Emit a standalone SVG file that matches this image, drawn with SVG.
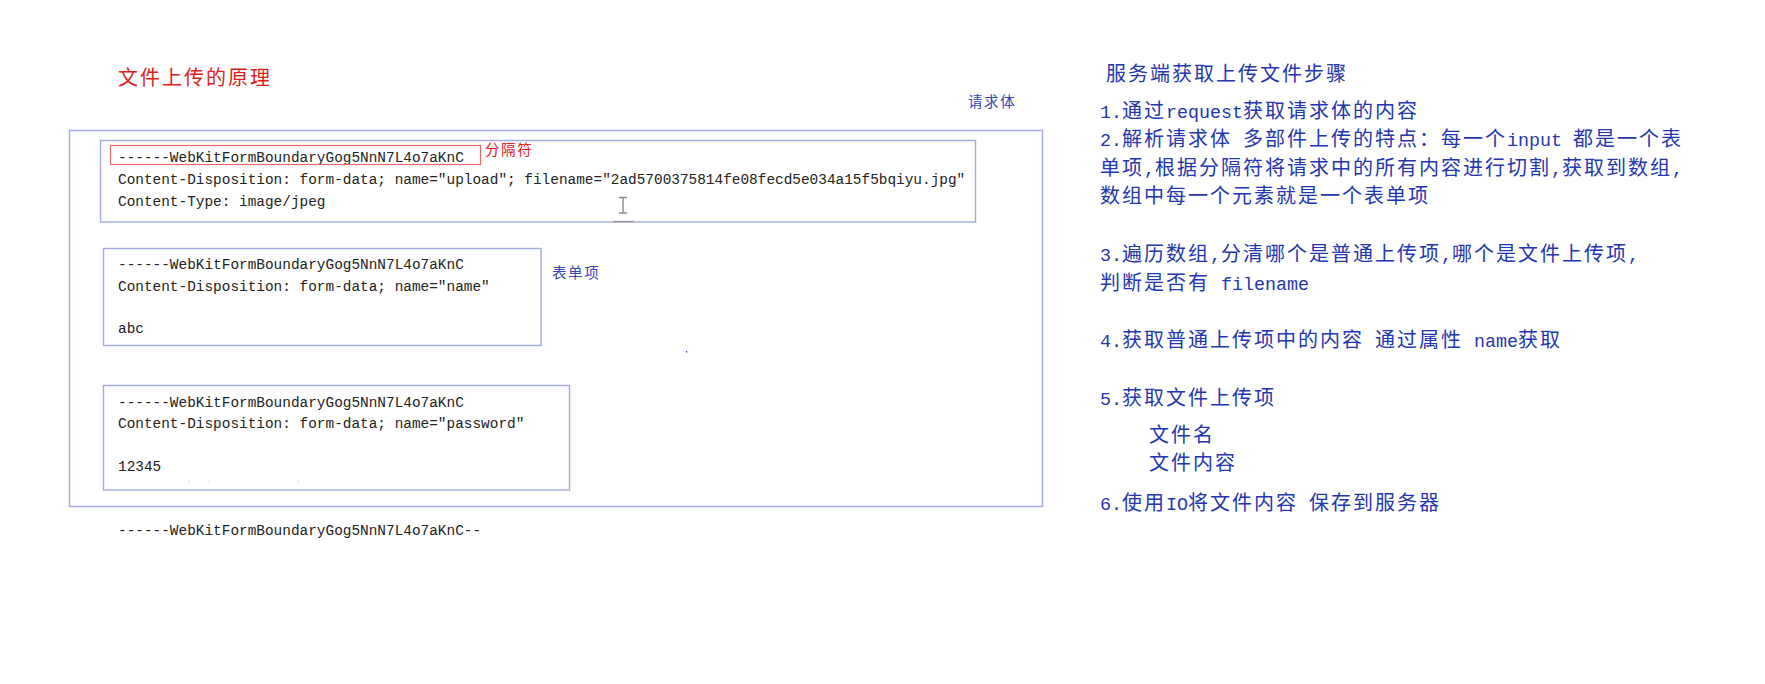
<svg xmlns="http://www.w3.org/2000/svg" width="1765" height="684" viewBox="0 0 1765 684">
<style>
.box{fill:none;stroke:#a3aadf;stroke-width:1.4}
.sep{fill:none;stroke:#e46a6a;stroke-width:1.2}
.code{font-family:"Liberation Mono","DejaVu Sans Mono",monospace;font-size:14.42px;fill:#222}
.cj{font-family:"Noto Sans CJK SC",sans-serif;font-size:20px;letter-spacing:2px;fill:#2436b0}
.la{font-family:"Liberation Mono","Noto Sans CJK SC",monospace;font-size:18.33px;letter-spacing:0px}
.red{font-family:"Noto Sans CJK SC",sans-serif;fill:#e0201c}
.lbl{font-family:"Noto Sans CJK SC",sans-serif;font-size:14.5px;letter-spacing:1.6px;fill:#3646b4}
</style>
<rect width="1765" height="684" fill="#ffffff"/>
<g id="title"><text class="red" x="118" y="85.4" font-size="20" letter-spacing="2">文件上传的原理</text></g>
<g id="request-body">
<rect class="box" x="69.5" y="130.5" width="973" height="376"/>
<text class="lbl" x="968" y="106.5">请求体</text>
</g>
<g id="part-upload">
<rect class="box" x="100.5" y="140.5" width="875" height="81.5"/>
<text class="code" x="118" y="162.3">------WebKitFormBoundaryGog5NnN7L4o7aKnC</text>
<text class="code" x="118" y="184">Content-Disposition: form-data; name="upload"; filename="2ad5700375814fe08fecd5e034a15f5bqiyu.jpg"</text>
<text class="code" x="118" y="205.8">Content-Type: image/jpeg</text>
<line x1="613" y1="221.5" x2="634" y2="221.5" stroke="#9a9a9a" stroke-width="1.4"/>
<path d="M619 197.5h8M623 197.5v15.5M619 213h8" fill="none" stroke="#8a8a8a" stroke-width="1.4"/>
</g>
<g id="separator">
<rect class="sep" x="110.5" y="145.5" width="370" height="19"/>
<text class="red" x="485" y="154.5" font-size="14.5" letter-spacing="1.6">分隔符</text>
</g>
<g id="part-name">
<rect class="box" x="103.5" y="248.5" width="437.5" height="97"/>
<text class="code" x="118" y="269.3">------WebKitFormBoundaryGog5NnN7L4o7aKnC</text>
<text class="code" x="118" y="290.7">Content-Disposition: form-data; name="name"</text>
<text class="code" x="118" y="333.4">abc</text>
<text class="lbl" x="552" y="277.5" fill="#4656c4">表单项</text>
</g>
<g id="part-password">
<rect class="box" x="103.5" y="385.5" width="466" height="104.5"/>
<text class="code" x="118" y="406.7">------WebKitFormBoundaryGog5NnN7L4o7aKnC</text>
<text class="code" x="118" y="428.3">Content-Disposition: form-data; name="password"</text>
<text class="code" x="118" y="471.3">12345</text>
<g fill="#b8b8b8"><rect x="188.5" y="481" width="1" height="1"/><rect x="208.5" y="481" width="1" height="1"/><rect x="298" y="481" width="1" height="1"/></g>
</g>
<g id="end-boundary"><text class="code" x="118" y="534.7">------WebKitFormBoundaryGog5NnN7L4o7aKnC--</text></g>
<rect x="686" y="351" width="1.2" height="1.6" fill="#3646b4"/>
<g id="steps">
<text class="cj" x="1106" y="80.6">服务端获取上传文件步骤</text>
<text class="cj" x="1100" y="117.5"><tspan class="la">1.</tspan>通过<tspan class="la">request</tspan>获取请求体的内容</text>
<text class="cj" x="1100" y="146"><tspan class="la">2.</tspan>解析请求体<tspan class="la"> </tspan>多部件上传的特点：每一个<tspan class="la">input </tspan>都是一个表</text>
<text class="cj" x="1100" y="174.5">单项<tspan class="la">,</tspan>根据分隔符将请求中的所有内容进行切割<tspan class="la">,</tspan>获取到数组<tspan class="la">,</tspan></text>
<text class="cj" x="1100" y="203">数组中每一个元素就是一个表单项</text>
<text class="cj" x="1100" y="260.8"><tspan class="la">3.</tspan>遍历数组<tspan class="la">,</tspan>分清哪个是普通上传项<tspan class="la">,</tspan>哪个是文件上传项<tspan class="la">,</tspan></text>
<text class="cj" x="1100" y="289.8">判断是否有<tspan class="la"> filename</tspan></text>
<text class="cj" x="1100" y="346.6"><tspan class="la">4.</tspan>获取普通上传项中的内容<tspan class="la"> </tspan>通过属性<tspan class="la"> name</tspan>获取</text>
<text class="cj" x="1100" y="405"><tspan class="la">5.</tspan>获取文件上传项</text>
<text class="cj" x="1149" y="441.6">文件名</text>
<text class="cj" x="1149" y="470">文件内容</text>
<text class="cj" x="1100" y="510"><tspan class="la">6.</tspan>使用<tspan class="la">IO</tspan>将文件内容<tspan class="la"> </tspan>保存到服务器</text>
</g>
<g id="connectors"/>
</svg>
